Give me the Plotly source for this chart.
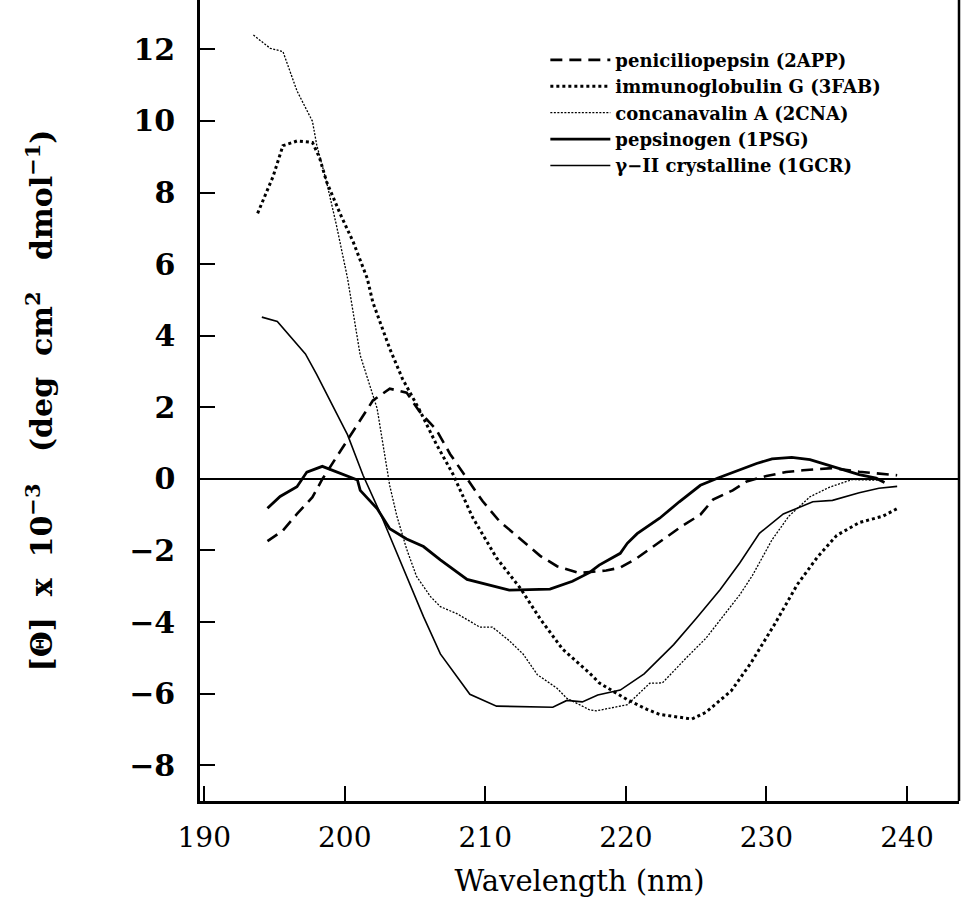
import plotly.graph_objects as go

# ---- data (wavelength nm, [Θ] x 10^-3) ----
app_wl = [194.5, 195.6, 196.6, 197.7, 198.4, 199.5, 200.4, 201.3, 202.0, 203.2, 204.4, 205.3,
          206.5, 207.5, 208.7, 209.8, 211.0, 212.5, 213.9, 215.1, 216.7, 218.6, 219.6, 220.8,
          222.4, 224.1, 225.3, 226.2, 227.6, 228.6, 230.0, 231.4, 232.6, 234.7, 236.6, 239.3]
app_val = [-1.74, -1.44, -0.98, -0.51, -0.01, 0.67, 1.23, 1.78, 2.19, 2.52, 2.41, 1.89,
           1.38, 0.69, 0.0, -0.62, -1.18, -1.67, -2.15, -2.44, -2.63, -2.56, -2.48, -2.21,
           -1.76, -1.29, -1.0, -0.58, -0.32, -0.07, 0.08, 0.19, 0.24, 0.30, 0.20, 0.10]

fab_wl = [193.8, 194.9, 195.6, 196.6, 197.7, 198.2, 198.7, 199.7, 200.6, 201.6, 202.0, 203.2,
          204.1, 205.3, 206.5, 207.7, 209.1, 210.8, 212.5, 213.9, 215.5, 217.4, 218.1, 220.1,
          221.5, 222.4, 224.7, 225.7, 227.5, 228.9, 230.6, 232.2, 233.6, 235.0, 236.6, 238.3, 239.3]
fab_val = [7.42, 8.45, 9.31, 9.44, 9.40, 8.98, 8.31, 7.38, 6.62, 5.60, 4.93, 3.64,
           2.80, 1.94, 0.98, 0.13, -1.08, -2.21, -3.06, -3.91, -4.76, -5.42, -5.70, -6.17,
           -6.44, -6.58, -6.71, -6.52, -5.92, -5.14, -4.05, -2.95, -2.20, -1.58, -1.22, -1.04, -0.83]

cna_wl = [193.5, 194.7, 195.6, 196.6, 197.7, 198.0, 198.7, 199.4, 200.2, 201.1, 202.3, 202.7,
          203.2, 203.7, 204.4, 205.1, 206.1, 206.8, 208.0, 209.6, 210.5, 211.7, 212.7, 213.7,
          215.1, 215.8, 217.4, 217.9, 219.6, 220.1, 221.7, 222.6, 224.3, 225.7, 228.1, 229.0,
          230.4, 231.6, 233.1, 234.5, 236.1, 238.3]
cna_val = [12.4, 12.03, 11.94, 10.84, 9.99, 9.34, 8.30, 7.10, 5.60, 3.45, 1.97, 1.02,
           -0.19, -1.03, -1.96, -2.72, -3.29, -3.57, -3.77, -4.14, -4.14, -4.52, -4.90, -5.47,
           -5.85, -6.13, -6.45, -6.48, -6.36, -6.31, -5.71, -5.70, -5.00, -4.45, -3.24, -2.70,
           -1.70, -1.04, -0.50, -0.23, -0.02, -0.04]

psg_wl = [194.5, 195.4, 196.6, 197.3, 198.4, 199.0, 200.4, 200.9, 201.1, 202.3, 203.2, 204.4,
          205.6, 206.8, 208.7, 211.7, 214.6, 216.2, 217.4, 218.1, 219.6, 220.1, 220.8, 222.4,
          223.8, 225.3, 226.6, 228.1, 229.3, 230.4, 231.8, 233.1, 235.0, 236.6, 237.8, 238.4]
psg_val = [-0.82, -0.49, -0.22, 0.19, 0.35, 0.26, 0.05, -0.03, -0.32, -0.83, -1.39, -1.68,
           -1.89, -2.26, -2.81, -3.11, -3.08, -2.86, -2.62, -2.41, -2.08, -1.80, -1.53, -1.10,
           -0.64, -0.18, 0.03, 0.24, 0.43, 0.56, 0.60, 0.54, 0.30, 0.12, 0.02, -0.10]

gcr_wl = [194.1, 195.2, 197.2, 198.0, 200.2, 201.3, 202.5, 203.7, 204.6, 205.6, 206.8, 208.0,
          208.9, 210.8, 214.8, 215.8, 216.9, 218.0, 219.6, 221.3, 223.4, 225.0, 226.7, 228.1,
          229.5, 231.2, 233.3, 234.7, 236.6, 238.0, 239.3]
gcr_val = [4.52, 4.40, 3.49, 2.92, 1.23, 0.10, -0.94, -2.06, -2.92, -3.85, -4.89, -5.54,
           -6.02, -6.35, -6.38, -6.19, -6.23, -6.04, -5.90, -5.45, -4.63, -3.90, -3.10, -2.35,
           -1.52, -0.98, -0.64, -0.60, -0.39, -0.26, -0.21]

names = ["peniciliopepsin (2APP)", "immunoglobulin G (3FAB)", "concanavalin A (2CNA)",
         "pepsinogen (1PSG)", "γ−II crystalline (1GCR)"]

x_ticks = [190, 200, 210, 220, 230, 240]
y_ticks = [-8, -6, -4, -2, 0, 2, 4, 6, 8, 10, 12]

FONT = "DejaVu Serif"

fig = go.Figure()
series = [
    (app_wl, app_val, dict(color="black", width=2.6, dash="12px,7px")),
    (fab_wl, fab_val, dict(color="black", width=3, dash="3px,3px")),
    (cna_wl, cna_val, dict(color="black", width=1.3, dash="2px,1.5px")),
    (psg_wl, psg_val, dict(color="black", width=2.8)),
    (gcr_wl, gcr_val, dict(color="black", width=1.6)),
]
for (xs, ys, ln), nm in zip(series, names):
    fig.add_trace(go.Scatter(x=xs, y=ys, mode="lines", name=nm, line=ln))

fig.update_layout(
    width=967, height=917,
    margin=dict(l=200, r=8, t=0, b=116),
    paper_bgcolor="white", plot_bgcolor="white",
    font=dict(family=FONT, color="black"),
    showlegend=True,
    legend=dict(x=0.455, y=0.948, xanchor="left", yanchor="top",
                bgcolor="rgba(0,0,0,0)", borderwidth=0, itemwidth=60,
                font=dict(family=FONT, size=18, weight="bold")),
    xaxis=dict(range=[189.7, 243.7], tickvals=x_ticks, ticks="inside", ticklen=15,
               tickwidth=2, tickcolor="black", showline=True, linewidth=2.5,
               linecolor="black", showgrid=False, zeroline=False,
               tickfont=dict(family=FONT, size=28), ticklabelstandoff=10,
               title=dict(text="Wavelength (nm)", font=dict(family=FONT, size=29),
                          standoff=18)),
    yaxis=dict(range=[-9, 13.38], tickvals=y_ticks,
               ticktext=[str(v).replace("-", "−") for v in y_ticks],
               ticks="inside", ticklen=15, tickwidth=2, tickcolor="black",
               showline=True, linewidth=2.5, linecolor="black", showgrid=False,
               zeroline=True, zerolinewidth=2, zerolinecolor="black",
               tickfont=dict(family=FONT, size=30, weight="bold"), ticklabelstandoff=16,
               title=dict(text="[Θ]  x  10<sup>−3</sup>   (deg  cm<sup>2</sup>   dmol<sup>−1</sup>)",
                          font=dict(family=FONT, size=30, weight="bold"), standoff=68)),
)
fig.add_shape(type="line", xref="paper", yref="paper", x0=1, x1=1, y0=0, y1=1,
              line=dict(color="black", width=2.5))

fig.write_html("out.html")
